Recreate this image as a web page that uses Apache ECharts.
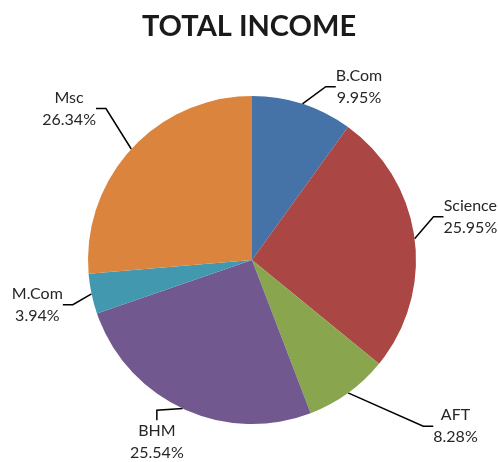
<!DOCTYPE html>
<html>
<head>
<meta charset="utf-8">
<script src="https://cdn.jsdelivr.net/npm/echarts@6/dist/echarts.min.js"></script>
<style>
  html, body { margin: 0; padding: 0; background: #fff; }
  #totalIncome { width: 498px; height: 462px; }
</style>
</head>
<body>
<div id="totalIncome"></div>
<script>
const courses = ["B.Com", "Science", "AFT", "BHM", "M.Com", "Msc"];
const shares = [9.95, 25.95, 8.28, 25.54, 3.94, 26.34];
const colors = ["#4572a7", "#aa4643", "#89a54e", "#71588f", "#4198af", "#db843d"];
// nudges so the labels sit where the original spreadsheet put them
const labelNudge = [[14, -4], [0, -20], [62, 22], [22, 21], [0, 8], [-10, -31]];

const chart = echarts.init(document.getElementById("totalIncome"));
chart.setOption({
  animation: false,
  color: colors,
  title: {
    text: "TOTAL INCOME",
    left: "center",
    top: 7,
    textStyle: { fontFamily: "Lato", fontSize: 29, fontWeight: "bold", color: "#1a1a1a" },
  },
  series: [
    {
      type: "pie",
      center: [252, 260],
      radius: 164,
      startAngle: 90,
      clockwise: true,
      avoidLabelOverlap: false,
      data: courses.map((name, i) => ({ name: name, value: shares[i] })),
      itemStyle: { borderWidth: 0 },
      label: {
        formatter: (p) => p.name + "\n" + p.value.toFixed(2) + "%",
        fontFamily: "Lato",
        fontSize: 16,
        lineHeight: 22,
        color: "#262626",
      },
      labelLine: {
        length: 14,
        length2: 10,
        lineStyle: { color: "#000", width: 1.5 },
      },
      labelLayout: (params) => {
        const n = labelNudge[params.dataIndex];
        return {
          x: params.labelRect.x + params.labelRect.width / 2 + n[0],
          y: params.labelRect.y + params.labelRect.height / 2 + n[1],
          align: "center",
          verticalAlign: "middle",
        };
      },
      emphasis: { disabled: true },
    },
  ],
});
</script>
</body>
</html>
